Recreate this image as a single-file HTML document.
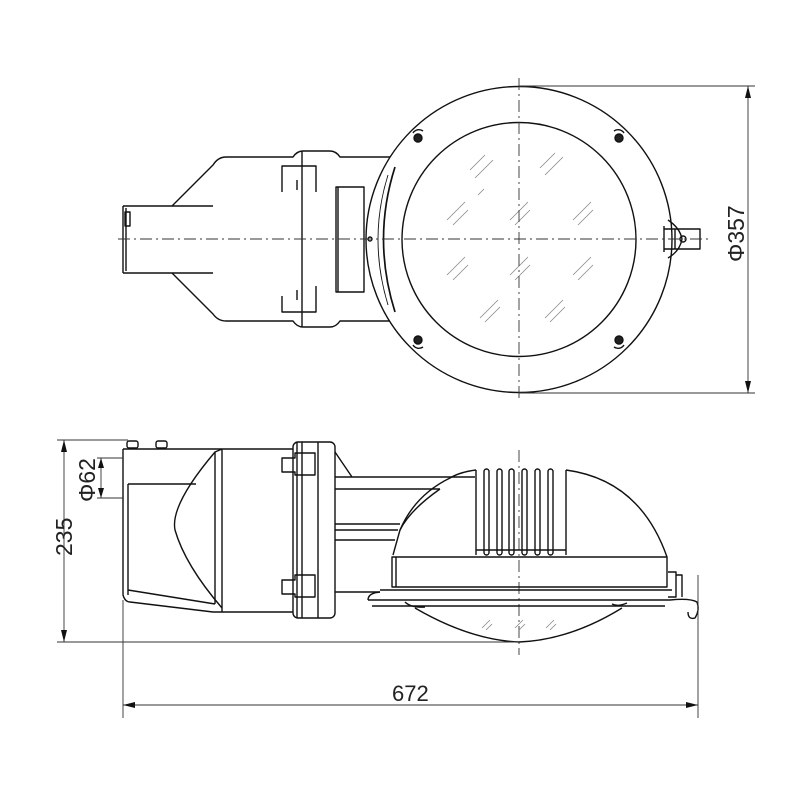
<!DOCTYPE html>
<html><head><meta charset="utf-8"><style>html,body{margin:0;padding:0;background:#fff}svg{display:block}</style></head>
<body>
<svg width="800" height="800" viewBox="0 0 800 800" xmlns="http://www.w3.org/2000/svg" font-family="Liberation Sans Narrow, Liberation Sans, sans-serif">
<g fill="none" stroke="#111" stroke-width="1.4" stroke-linejoin="round">
<!-- TOP VIEW -->
<path d="M123,206 H213 M123,273 H213 M123,206 V273 M126,208 V271"/>
<rect x="125" y="212" width="5" height="14"/>
<path d="M172,206 L213,165 Q218,157 226,157 H293 Q297,151 303,151 H330 Q336,151 340,157 H390"/>
<path d="M172,273 L213,314 Q218,321 226,321 H293 Q297,327 303,327 H330 Q336,327 340,321 H390"/>
<path d="M302,151 V327"/>
<path d="M282,192 V166 H316 V192 M297,180 V190 M282,296 V312 H316 V286 M297,290 V300"/>
<rect x="336" y="187" width="28" height="105"/>
<path d="M338,187 V292"/>
<circle cx="519" cy="239.5" r="153"/>
<circle cx="519" cy="239.5" r="117"/>
<path d="M395,167 Q372,239 395,312" stroke-width="1.7"/>
<path d="M388,175 Q368,239 388,305" stroke-width="0.9"/>
<circle cx="370" cy="239" r="2"/>
<path d="M668,220 Q680,228 682,239 Q680,251 668,258"/>
<path d="M664,229 H700 V249 H664 M664,226 V252 M675,229 V249"/>
<circle cx="683" cy="239" r="3"/>
<g fill="#222"><circle cx="418" cy="138" r="4"/><circle cx="619" cy="138" r="4"/><circle cx="418" cy="340" r="4"/><circle cx="619" cy="340" r="4"/></g>
<path d="M413,133 a7,7 0 0 1 10,-2 M624,133 a7,7 0 0 0 -10,-2 M413,345 a7,7 0 0 0 10,2 M624,345 a7,7 0 0 1 -10,2"/>
</g>
<g stroke="#888" stroke-width="0.8" fill="none">
<path d="M470,170 l15,-15 M475,178 l18,-18 M540,168 l15,-15 M545,175 l18,-18 M447,220 l18,-18 M453,225 l15,-15 M510,220 l18,-18 M515,225 l15,-15 M573,220 l18,-18 M578,225 l15,-15 M447,275 l18,-18 M453,280 l15,-15 M510,275 l18,-18 M515,280 l15,-15 M573,275 l18,-18 M578,280 l15,-15 M480,318 l18,-18 M485,322 l15,-15 M545,318 l18,-18 M550,322 l15,-15 M478,195 l6,-6"/>
</g>
<g stroke="#333" stroke-width="0.9" fill="none" stroke-dasharray="12,4,2,4">
<path d="M118,239 H712"/>
<path d="M519,78 V402"/>
<path d="M519,450 V655"/>
</g>
<!-- Φ357 dim -->
<g stroke="#333" stroke-width="0.9" fill="none">
<path d="M519,86 H755 M519,393 H755 M748,86 V393"/>
</g>
<path d="M748,86 l-3,12 h6z M748,393 l-3,-12 h6z" fill="#111"/>
<text x="0" y="0" font-size="23" fill="#222" transform="translate(744,262) rotate(-90)">Φ357</text>

<!-- SIDE VIEW -->
<g fill="none" stroke="#111" stroke-width="1.4" stroke-linejoin="round">
<rect x="127" y="441" width="11" height="7" rx="2"/><rect x="156" y="441" width="11" height="7" rx="2"/>
<path d="M123,449 H222 M123,449 V595 Q125,602 130,602 L213,612 H222"/>
<path d="M128,484 V595 M128,484 Q130,484 134,484 H196 M128,590 L215,604"/>
<path d="M222,449 L215,452 Q170,505 175,530 Q185,565 222,608"/>
<path d="M215,452 V604"/>
<path d="M222,449 V612 M222,449 H293 M222,612 H293"/>
<rect x="293" y="442" width="42" height="176" rx="5"/>
<path d="M297,442 V618 M302,442 V618 M318,442 V618"/>
<path d="M282,458 h13 v-5 h20 v22 h-20 v-3 h-13z M282,580 h13 v-5 h20 v22 h-20 v-3 h-13z"/>
<path d="M335,452 L352,477 M335,477 H475 M335,489 H440 M335,524 H400 M335,530 H398 M335,540 H395 M335,592 H380"/>
<path d="M440,489 Q410,510 400,530 L393,555"/>
<path d="M400,530 Q415,495 450,478 Q460,472 476,470 M566,470 Q640,480 667,557"/>
<path d="M476,470 V555 M566,470 V555"/>
<rect x="484" y="469" width="5" height="86" rx="2.5"/>
<rect x="497" y="469" width="5" height="86" rx="2.5"/>
<rect x="509" y="469" width="5" height="86" rx="2.5"/>
<rect x="522" y="469" width="5" height="86" rx="2.5"/>
<rect x="535" y="469" width="5" height="86" rx="2.5"/>
<rect x="548" y="469" width="5" height="86" rx="2.5"/>
<path d="M476,550 H566"/>
<path d="M392,557 H667 V587 H392Z M396,557 V587"/>
<path d="M380,590 H672 M368,600 Q368,593 380,592 M368,600 H670 M372,606 H665"/>
<path d="M415,608 Q470,640 519,642 Q570,640 622,608"/>
<path d="M405,602 q6,6 20,5 M612,604 q6,3 15,-1"/>
<path d="M668,572 h8 v25 h-8 M676,575 h6 v22 M670,600 Q690,598 697,602 Q700,610 695,618 Q688,620 688,612"/>
</g>
<g stroke="#888" stroke-width="0.8" fill="none">
<path d="M482,628 l8,-8 M486,630 l6,-6 M515,628 l8,-8 M519,630 l6,-6 M546,628 l8,-8 M550,630 l6,-6"/>
</g>
<!-- side dims -->
<g stroke="#333" stroke-width="0.9" fill="none">
<path d="M57,440 H128 M57,642 H519 M64,440 V642"/>
<path d="M97,458 H123 M97,498 H123 M101,458 V498"/>
<path d="M123,600 V718 M698,575 V718 M123,705 H698"/>
</g>
<path d="M64,440 l-3,12 h6z M64,642 l-3,-12 h6z M101,458 l-3,10 h6z M101,498 l-3,-10 h6z M123,705 l12,-3 v6z M698,705 l-12,-3 v6z" fill="#111"/>
<text font-size="23" fill="#222" transform="translate(72,556) rotate(-90)">235</text>
<text font-size="23" fill="#222" transform="translate(95,502) rotate(-90)">Φ62</text>
<text x="392" y="701" font-size="22" fill="#222">672</text>
</svg>
</body></html>
